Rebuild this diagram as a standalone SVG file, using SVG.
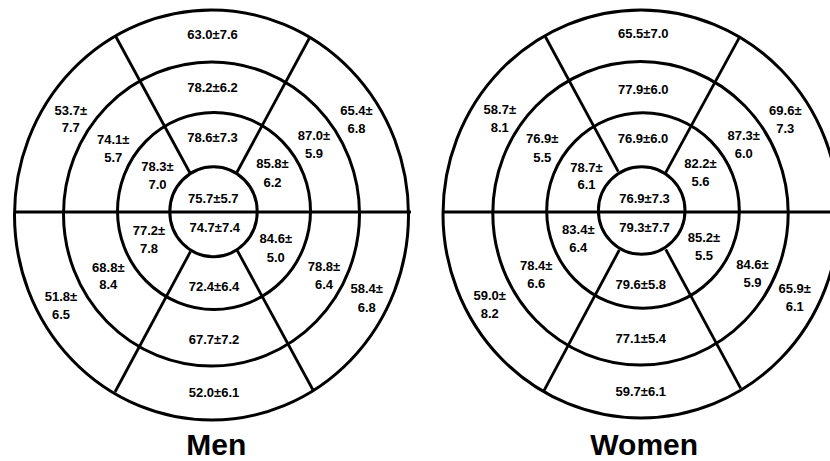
<svg xmlns="http://www.w3.org/2000/svg" width="830" height="461" viewBox="0 0 830 461">
<style>
.ring{fill:none;stroke:#000;stroke-width:3}
.line{stroke:#000;stroke-width:2.8;stroke-linecap:butt}
.v{font-family:"Liberation Sans",Arial,sans-serif;font-weight:bold;font-size:13px;text-anchor:middle;fill:#000}
.t{font-family:"Liberation Sans",Arial,sans-serif;font-weight:bold;font-size:30px;text-anchor:middle;fill:#000}
</style>
<rect width="830" height="461" fill="#fff"/>
<g id="men">
  <g id="men-rings">
    <ellipse class="ring" cx="211.5" cy="215" rx="197" ry="205"/>
    <ellipse class="ring" cx="211.5" cy="214" rx="148" ry="152"/>
    <ellipse class="ring" cx="214" cy="211" rx="96.5" ry="98.5"/>
    <ellipse class="ring" cx="213.5" cy="211.7" rx="43.7" ry="45"/>
  </g>
  <g id="men-connectors">
    <line class="line" x1="14" y1="212" x2="411" y2="212"/>
    <line class="line" x1="190" y1="173" x2="115.5" y2="36"/>
    <line class="line" x1="236" y1="174" x2="310" y2="37"/>
    <line class="line" x1="190.5" y1="251.5" x2="115" y2="392"/>
    <line class="line" x1="237" y1="250" x2="313" y2="390"/>
  </g>
  <g id="men-labels">
    <text class="v" x="212.5" y="39.3">63.0±7.6</text>
    <text class="v" x="212.5" y="91.7">78.2±6.2</text>
    <text class="v" x="212.5" y="141.7">78.6±7.3</text>
    <text class="v" x="213.3" y="203.3">75.7±5.7</text>
    <text class="v" x="70.8" y="115">53.7±</text><text class="v" x="70.8" y="131.7">7.7</text>
    <text class="v" x="113.2" y="144">74.1±</text><text class="v" x="113.2" y="161.7">5.7</text>
    <text class="v" x="157.5" y="171.3">78.3±</text><text class="v" x="157.5" y="189.3">7.0</text>
    <text class="v" x="272.5" y="168.3">85.8±</text><text class="v" x="272.5" y="186.7">6.2</text>
    <text class="v" x="314" y="140">87.0±</text><text class="v" x="314" y="158.3">5.9</text>
    <text class="v" x="356.5" y="115">65.4±</text><text class="v" x="356.5" y="133.3">6.8</text>
    <text class="v" x="214.8" y="232.3">74.7±7.4</text>
    <text class="v" x="149" y="235">77.2±</text><text class="v" x="149" y="253.3">7.8</text>
    <text class="v" x="275.8" y="243.3">84.6±</text><text class="v" x="275.8" y="261.7">5.0</text>
    <text class="v" x="108.3" y="271.7">68.8±</text><text class="v" x="108.3" y="289.3">8.4</text>
    <text class="v" x="214" y="290.7">72.4±6.4</text>
    <text class="v" x="324" y="270.7">78.8±</text><text class="v" x="324" y="289.3">6.4</text>
    <text class="v" x="61" y="300.7">51.8±</text><text class="v" x="61" y="319">6.5</text>
    <text class="v" x="366.7" y="293.3">58.4±</text><text class="v" x="366.7" y="311.7">6.8</text>
    <text class="v" x="214" y="344">67.7±7.2</text>
    <text class="v" x="214" y="396.7">52.0±6.1</text>
  </g>
  <text id="men-title" class="t" x="216.3" y="455">Men</text>
</g>
<g id="women">
  <g id="women-rings">
    <ellipse class="ring" cx="641" cy="214" rx="198" ry="204"/>
    <ellipse class="ring" cx="640.5" cy="213.3" rx="147.7" ry="151.7"/>
    <ellipse class="ring" cx="643" cy="210.5" rx="96.3" ry="97.8"/>
    <ellipse class="ring" cx="641.7" cy="210.5" rx="43.3" ry="43.8"/>
  </g>
  <g id="women-connectors">
    <line class="line" x1="443" y1="212" x2="830" y2="212"/>
    <line class="line" x1="618.3" y1="171.7" x2="545" y2="36"/>
    <line class="line" x1="665.7" y1="172.7" x2="739.3" y2="37.7"/>
    <line class="line" x1="619.3" y1="250" x2="544" y2="390.7"/>
    <line class="line" x1="665.7" y1="249.3" x2="740.7" y2="388.3"/>
  </g>
  <g id="women-labels">
    <text class="v" x="643.3" y="38.3">65.5±7.0</text>
    <text class="v" x="643.3" y="94">77.9±6.0</text>
    <text class="v" x="643" y="142.7">76.9±6.0</text>
    <text class="v" x="644.5" y="202.7">76.9±7.3</text>
    <text class="v" x="499.8" y="114">58.7±</text><text class="v" x="499.8" y="131.7">8.1</text>
    <text class="v" x="542.2" y="142.7">76.9±</text><text class="v" x="542.2" y="161.7">5.5</text>
    <text class="v" x="586.5" y="171.7">78.7±</text><text class="v" x="586.5" y="189.3">6.1</text>
    <text class="v" x="700.5" y="168.3">82.2±</text><text class="v" x="700.5" y="186">5.6</text>
    <text class="v" x="743.7" y="140">87.3±</text><text class="v" x="743.7" y="158.3">6.0</text>
    <text class="v" x="785.3" y="115">69.6±</text><text class="v" x="785.3" y="133.3">7.3</text>
    <text class="v" x="644.5" y="231.7">79.3±7.7</text>
    <text class="v" x="578.3" y="234">83.4±</text><text class="v" x="578.3" y="251.7">6.4</text>
    <text class="v" x="704" y="241.7">85.2±</text><text class="v" x="704" y="260">5.5</text>
    <text class="v" x="536.2" y="270">78.4±</text><text class="v" x="536.2" y="288.3">6.6</text>
    <text class="v" x="640.8" y="289.3">79.6±5.8</text>
    <text class="v" x="752.5" y="269.3">84.6±</text><text class="v" x="752.5" y="287.3">5.9</text>
    <text class="v" x="794.7" y="292.7">65.9±</text><text class="v" x="794.7" y="311">6.1</text>
    <text class="v" x="489.7" y="300">59.0±</text><text class="v" x="489.7" y="318.3">8.2</text>
    <text class="v" x="640.8" y="342.7">77.1±5.4</text>
    <text class="v" x="640.8" y="396">59.7±6.1</text>
  </g>
  <text id="women-title" class="t" x="644.2" y="455">Women</text>
</g>
</svg>
